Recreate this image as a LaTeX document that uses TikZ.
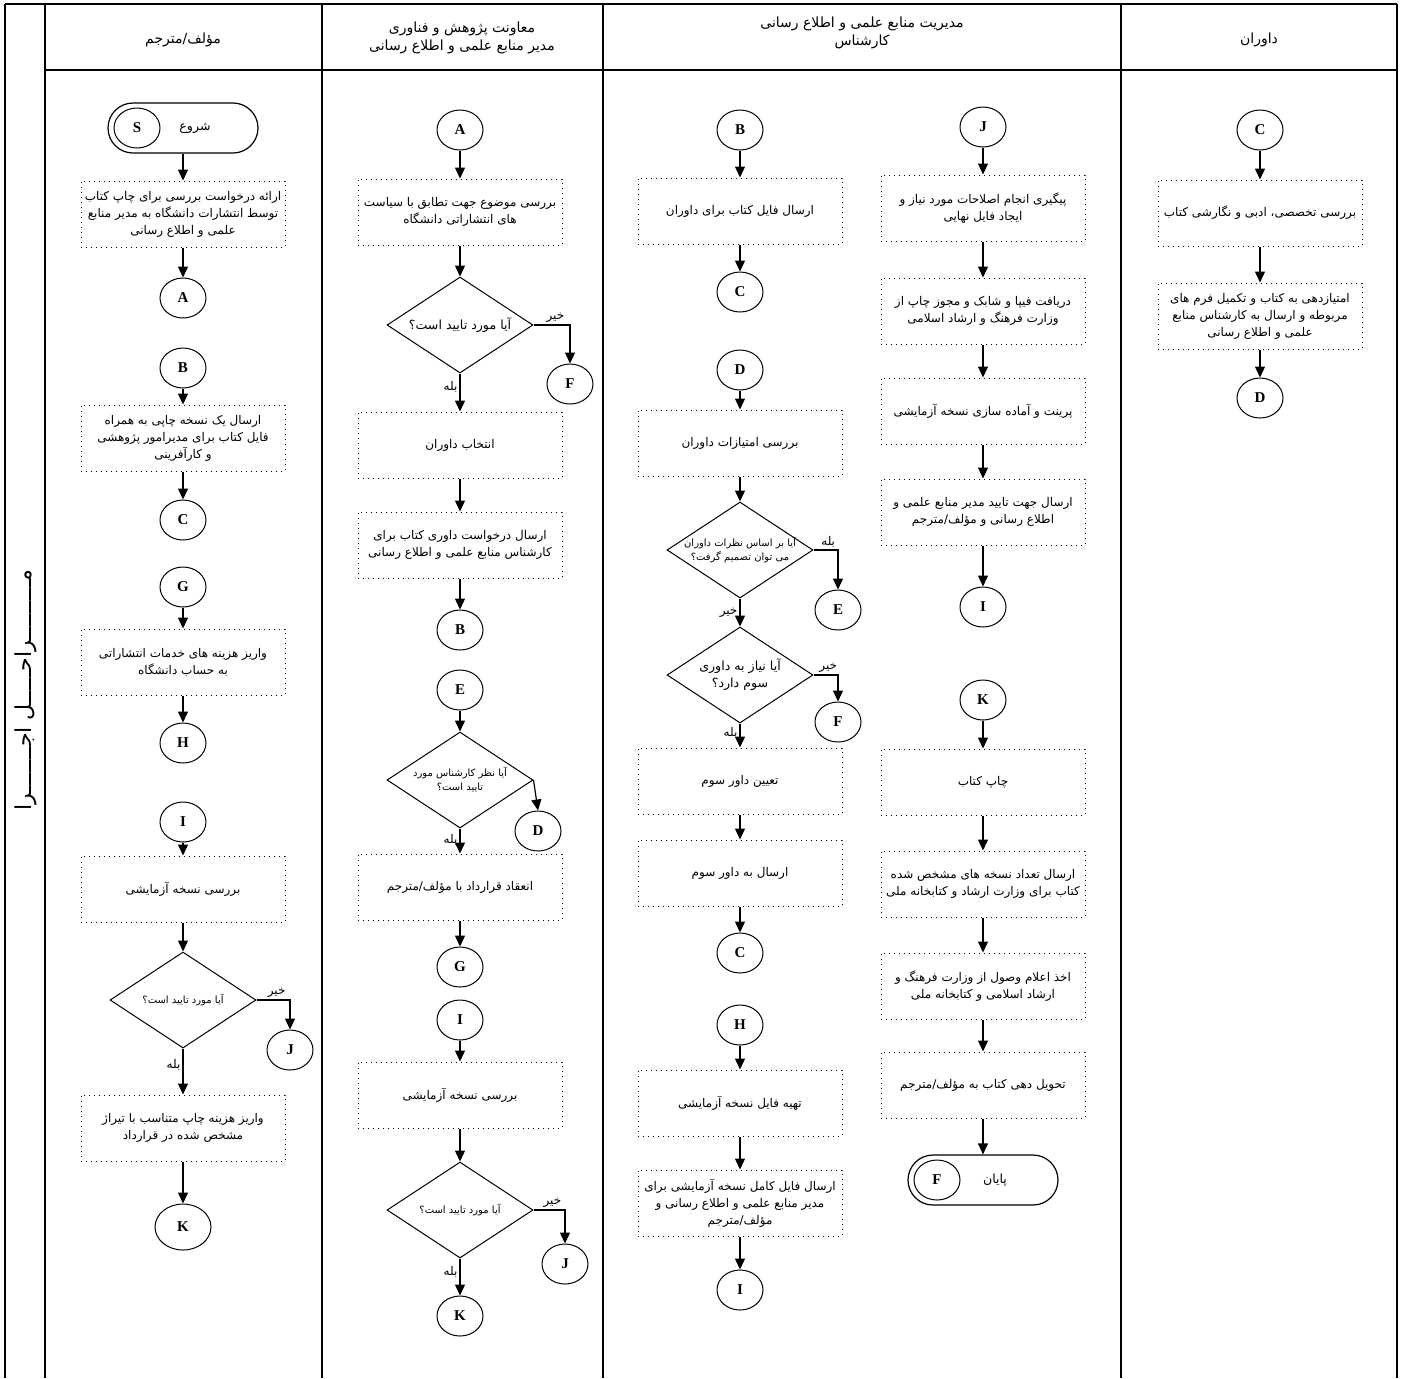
\documentclass[tikz,border=0pt]{standalone}
\usepackage{fontspec}
\setmainfont{Liberation Serif}
\newfontfamily\farsi[Script=Arabic]{DejaVu Sans}
\TeXXeTstate=1
\newcommand{\fa}[1]{{\farsi\beginR #1\endR}}
\usetikzlibrary{shapes.geometric, arrows.meta, positioning}

\tikzset{
    arr/.style={-{Triangle[width=5pt,length=5.5pt]}, line width=0.6pt},
    lane/.style={line width=1pt},
    proc/.style={draw, dotted, line width=0.5pt, minimum width=102pt, minimum height=33pt,
        inner sep=1pt, align=center, font=\fontsize{6}{8.5}\selectfont},
    circ/.style={draw, ellipse, line width=0.5pt, minimum width=23pt, minimum height=20pt,
        inner sep=0pt, font=\fontsize{7.5}{8}\selectfont\bfseries},
    dec/.style={draw, diamond, line width=0.5pt, minimum width=73pt, minimum height=48pt, inner sep=0pt},
    term/.style={draw, rectangle, rounded corners=12.5pt, line width=0.6pt, minimum width=75pt, minimum height=25pt},
    qbig/.style={align=center, font=\fontsize{6.3}{8.5}\selectfont\farsi},
    qsmall/.style={align=center, font=\fontsize{5}{7}\selectfont\farsi},
    yn/.style={font=\fontsize{6}{7}\selectfont, inner sep=1pt},
    head/.style={align=center, font=\fontsize{7}{9}\selectfont}
}

\begin{document}
\begin{tikzpicture}[x=0.5pt, y=-0.5pt]
        \useasboundingbox (0,0) rectangle (1402,1378);
        \draw[lane] (5,4) -- (1397,4);
        \foreach \x in {5,45,322,603,1121,1397}
            \draw[lane] (\x,4) -- (\x,1378);
        \draw[lane] (45,70) -- (1397,70);

        \node[head] (hd1) at (183,40) {\fa{مؤلف/مترجم}};
        \node[head] (hd2) at (462,38) {\fa{معاونت پژوهش و فناوری}\\\fa{مدیر منابع علمی و اطلاع رسانی}};
        \node[head] (hd3) at (862,33) {\fa{مدیریت منابع علمی و اطلاع رسانی}\\\fa{کارشناس}};
        \node[head] (hd4) at (1259,40) {\fa{داوران}};
        \node[rotate=90, font=\fontsize{11}{12}\selectfont] (phase) at (26,690) {\fa{مـــــــــراحـــــل اجـــــــرا}};

        % author / translator
        \node[term] (a0) at (183,128) {};
        \node[circ] (aS) at (137,128) {S};
        \node[qbig] (a0t) at (195,128) {\fa{شروع}};
        \node[proc] (a1) at (183,214) {\fa{ارائه درخواست بررسی برای چاپ کتاب}\\\fa{توسط انتشارات دانشگاه به مدیر منابع}\\\fa{علمی و اطلاع رسانی}};
        \node[circ] (aA) at (183,298) {A};
        \node[circ] (aB) at (183,368) {B};
        \node[proc] (a2) at (183,438) {\fa{ارسال یک نسخه چاپی به همراه}\\\fa{فایل کتاب برای مدیرامور پژوهشی}\\\fa{و کارآفرینی}};
        \node[circ] (aC) at (183,520) {C};
        \node[circ] (aG) at (183,587) {G};
        \node[proc] (a3) at (183,662) {\fa{واریز هزینه های خدمات انتشاراتی}\\\fa{به حساب دانشگاه}};
        \node[circ] (aH) at (183,743) {H};
        \node[circ] (aI) at (183,822) {I};
        \node[proc] (a4) at (183,889) {\fa{بررسی نسخه آزمایشی}};
        \node[dec, label={[qsmall]center:{\beginR آیا مورد تایید است؟\endR}}] (aq) at (183,1000) {};
        \node[circ] (aJ) at (290,1050) {J};
        \node[proc] (a5) at (183,1128) {\fa{واریز هزینه چاپ متناسب با تیراژ}\\\fa{مشخص شده در قرارداد}};
        \node[circ, minimum width=28pt, minimum height=23pt] (aK) at (183,1227) {K};
        \draw[arr] (a0) -- (a1);
        \draw[arr] (a1) -- (aA);
        \draw[arr] (aB) -- (a2);
        \draw[arr] (a2) -- (aC);
        \draw[arr] (aG) -- (a3);
        \draw[arr] (a3) -- (aH);
        \draw[arr] (aI) -- (a4);
        \draw[arr] (a4) -- (aq);
        \draw[arr] (aq.east) -| node[yn, pos=0.3, above] {\fa{خیر}} (aJ.north);
        \draw[arr] (aq.south) -- node[yn, pos=0.35, left] {\fa{بله}} (a5);
        \draw[arr] (a5) -- (aK);

        % research deputy
        \node[circ] (mA) at (460,130) {A};
        \node[proc] (m1) at (460,212) {\fa{بررسی موضوع جهت تطابق با سیاست}\\\fa{های انتشاراتی دانشگاه}};
        \node[dec, label={[qbig]center:{\beginR آیا مورد تایید است؟\endR}}] (mq1) at (460,325) {};
        \node[circ] (mF) at (570,384) {F};
        \node[proc] (m2) at (460,445) {\fa{انتخاب داوران}};
        \node[proc] (m3) at (460,545) {\fa{ارسال درخواست داوری کتاب برای}\\\fa{کارشناس منابع علمی و اطلاع رسانی}};
        \node[circ] (mB) at (460,630) {B};
        \node[circ] (mE) at (460,690) {E};
        \node[dec, label={[qsmall]center:{\beginR آیا نظر کارشناس مورد\endR\\\beginR تایید است؟\endR}}] (mq2) at (460,780) {};
        \node[circ] (mD) at (538,831) {D};
        \node[proc] (m4) at (460,887) {\fa{انعقاد قرارداد با مؤلف/مترجم}};
        \node[circ] (mG) at (460,967) {G};
        \node[circ] (mI) at (460,1020) {I};
        \node[proc] (m5) at (460,1095) {\fa{بررسی نسخه آزمایشی}};
        \node[dec, label={[qsmall]center:{\beginR آیا مورد تایید است؟\endR}}] (mq3) at (460,1210) {};
        \node[circ] (mJ) at (565,1264) {J};
        \node[circ] (mK) at (460,1316) {K};
        \draw[arr] (mA) -- (m1);
        \draw[arr] (m1) -- (mq1);
        \draw[arr] (mq1.east) -| node[yn, pos=0.3, above] {\fa{خیر}} (mF.north);
        \draw[arr] (mq1.south) -- node[yn, pos=0.35, left] {\fa{بله}} (m2);
        \draw[arr] (m2) -- (m3);
        \draw[arr] (m3) -- (mB);
        \draw[arr] (mE) -- (mq2);
        \draw[arr] (mq2.east) -- (mD.north);
        \draw[arr] (mq2.south) -- node[yn, pos=0.45, left] {\fa{بله}} (m4);
        \draw[arr] (m4) -- (mG);
        \draw[arr] (mI) -- (m5);
        \draw[arr] (m5) -- (mq3);
        \draw[arr] (mq3.east) -| node[yn, pos=0.3, above] {\fa{خیر}} (mJ.north);
        \draw[arr] (mq3.south) -- node[yn, pos=0.35, left] {\fa{بله}} (mK);

        % expert, first flow
        \node[circ] (kB) at (740,130) {B};
        \node[proc] (k1) at (740,211) {\fa{ارسال فایل کتاب برای داوران}};
        \node[circ] (kC) at (740,292) {C};
        \node[circ] (kD) at (740,370) {D};
        \node[proc] (k2) at (740,443) {\fa{بررسی امتیازات داوران}};
        \node[dec, label={[qsmall]center:{\beginR آیا بر اساس نظرات داوران\endR\\\beginR می توان تصمیم گرفت؟\endR}}] (kq1) at (740,550) {};
        \node[circ] (kE) at (838,610) {E};
        \node[dec, label={[qbig]center:{\beginR آیا نیاز به داوری\endR\\\beginR سوم دارد؟\endR}}] (kq2) at (740,675) {};
        \node[circ] (kF) at (838,722) {F};
        \node[proc] (k3) at (740,781) {\fa{تعیین داور سوم}};
        \node[proc] (k4) at (740,873) {\fa{ارسال به داور سوم}};
        \node[circ] (kC2) at (740,953) {C};
        \node[circ] (kH) at (740,1025) {H};
        \node[proc] (k5) at (740,1103) {\fa{تهیه فایل نسخه آزمایشی}};
        \node[proc] (k6) at (740,1203) {\fa{ارسال فایل کامل نسخه آزمایشی برای}\\\fa{مدیر منابع علمی و اطلاع رسانی و}\\\fa{مؤلف/مترجم}};
        \node[circ] (kI) at (740,1290) {I};
        \draw[arr] (kB) -- (k1);
        \draw[arr] (k1) -- (kC);
        \draw[arr] (kD) -- (k2);
        \draw[arr] (k2) -- (kq1);
        \draw[arr] (kq1.east) -| node[yn, pos=0.3, above] {\fa{بله}} (kE.north);
        \draw[arr] (kq1.south) -- node[yn, pos=0.5, left] {\fa{خیر}} (kq2.north);
        \draw[arr] (kq2.east) -| node[yn, pos=0.3, above] {\fa{خیر}} (kF.north);
        \draw[arr] (kq2.south) -- node[yn, pos=0.4, left] {\fa{بله}} (k3);
        \draw[arr] (k3) -- (k4);
        \draw[arr] (k4) -- (kC2);
        \draw[arr] (kH) -- (k5);
        \draw[arr] (k5) -- (k6);
        \draw[arr] (k6) -- (kI);

        % expert, second flow
        \node[circ] (rJ) at (983,127) {J};
        \node[proc] (r1) at (983,208) {\fa{پیگیری انجام اصلاحات مورد نیاز و}\\\fa{ایجاد فایل نهایی}};
        \node[proc] (r2) at (983,311) {\fa{دریافت فیپا و شابک و مجوز چاپ از}\\\fa{وزارت فرهنگ و ارشاد اسلامی}};
        \node[proc] (r3) at (983,411) {\fa{پرینت و آماده سازی نسخه آزمایشی}};
        \node[proc] (r4) at (983,512) {\fa{ارسال جهت تایید مدیر منابع علمی و}\\\fa{اطلاع رسانی و مؤلف/مترجم}};
        \node[circ] (rI) at (983,607) {I};
        \node[circ] (rK) at (983,700) {K};
        \node[proc] (r5) at (983,782) {\fa{چاپ کتاب}};
        \node[proc] (r6) at (983,884) {\fa{ارسال تعداد نسخه های مشخص شده}\\\fa{کتاب برای وزارت ارشاد و کتابخانه ملی}};
        \node[proc] (r7) at (983,986) {\fa{اخذ اعلام وصول از وزارت فرهنگ و}\\\fa{ارشاد اسلامی و کتابخانه ملی}};
        \node[proc] (r8) at (983,1085) {\fa{تحویل دهی کتاب به مؤلف/مترجم}};
        \node[term] (r9) at (983,1180) {};
        \node[circ] (rF) at (937,1180) {F};
        \node[qbig] (r9t) at (995,1180) {\fa{پایان}};
        \draw[arr] (rJ) -- (r1);
        \draw[arr] (r1) -- (r2);
        \draw[arr] (r2) -- (r3);
        \draw[arr] (r3) -- (r4);
        \draw[arr] (r4) -- (rI);
        \draw[arr] (rK) -- (r5);
        \draw[arr] (r5) -- (r6);
        \draw[arr] (r6) -- (r7);
        \draw[arr] (r7) -- (r8);
        \draw[arr] (r8) -- (r9);

        % referees
        \node[circ] (dC) at (1260,130) {C};
        \node[proc] (d1) at (1260,213) {\fa{بررسی تخصصی، ادبی و نگارشی کتاب}};
        \node[proc] (d2) at (1260,316) {\fa{امتیازدهی به کتاب و تکمیل فرم های}\\\fa{مربوطه و ارسال به کارشناس منابع}\\\fa{علمی و اطلاع رسانی}};
        \node[circ] (dD) at (1260,398) {D};
        \draw[arr] (dC) -- (d1);
        \draw[arr] (d1) -- (d2);
        \draw[arr] (d2) -- (dD);
    \end{tikzpicture}
\end{document}
